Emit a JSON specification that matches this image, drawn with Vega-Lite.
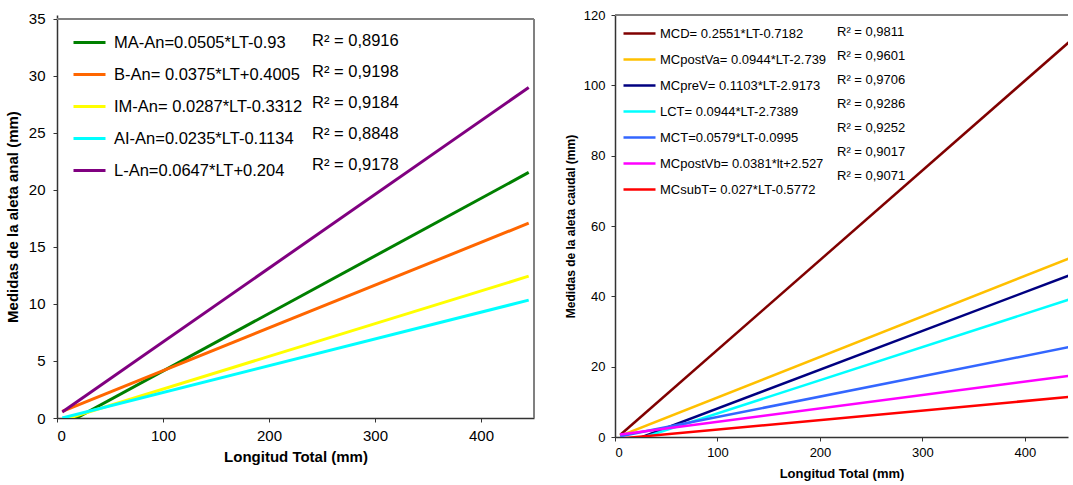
{
  "$schema": "https://vega.github.io/schema/vega-lite/v6.json",
  "padding": {"left": 5, "top": 9, "right": 0, "bottom": 5},
  "spacing": 29,
  "resolve": {"scale": {"color": "independent", "strokeDash": "independent", "x": "independent", "y": "independent"}, "legend": {"color": "independent", "strokeDash": "independent"}},
  "config": {
    "font": "Liberation Sans",
    "view": {"stroke": null},
    "axis": {"grid": false, "domainColor": "#333333", "domainWidth": 1.5, "tickColor": "#333333", "tickSize": 4, "labelColor": "#000000", "titleColor": "#000000", "titleFontWeight": "bold"},
    "legend": {"labelLimit": 0}
  },
  "datasets": {
    "anal": [
      {"eq": "MA-An=0.0505*LT-0.93", "r2": "R² = 0,8916", "lt": 5, "y": -0.68},
      {"eq": "MA-An=0.0505*LT-0.93", "r2": "R² = 0,8916", "lt": 445, "y": 21.54},
      {"eq": "B-An= 0.0375*LT+0.4005", "r2": "R² = 0,9198", "lt": 5, "y": 0.59},
      {"eq": "B-An= 0.0375*LT+0.4005", "r2": "R² = 0,9198", "lt": 445, "y": 17.09},
      {"eq": "IM-An= 0.0287*LT-0.3312", "r2": "R² = 0,9184", "lt": 5, "y": -0.19},
      {"eq": "IM-An= 0.0287*LT-0.3312", "r2": "R² = 0,9184", "lt": 445, "y": 12.44},
      {"eq": "AI-An=0.0235*LT-0.1134", "r2": "R² = 0,8848", "lt": 5, "y": 0.0},
      {"eq": "AI-An=0.0235*LT-0.1134", "r2": "R² = 0,8848", "lt": 445, "y": 10.34},
      {"eq": "L-An=0.0647*LT+0.204", "r2": "R² = 0,9178", "lt": 5, "y": 0.53},
      {"eq": "L-An=0.0647*LT+0.204", "r2": "R² = 0,9178", "lt": 445, "y": 28.99}
    ],
    "caudal": [
      {"eq": "MCD= 0.2551*LT-0.7182", "r2": "R² = 0,9811", "lt": 5, "y": 0.56},
      {"eq": "MCD= 0.2551*LT-0.7182", "r2": "R² = 0,9811", "lt": 445, "y": 112.8},
      {"eq": "MCpostVa= 0.0944*LT-2.739", "r2": "R² = 0,9601", "lt": 5, "y": 0.3},
      {"eq": "MCpostVa= 0.0944*LT-2.739", "r2": "R² = 0,9601", "lt": 445, "y": 51.0},
      {"eq": "MCpreV= 0.1103*LT-2.9173", "r2": "R² = 0,9706", "lt": 5, "y": -2.37},
      {"eq": "MCpreV= 0.1103*LT-2.9173", "r2": "R² = 0,9706", "lt": 445, "y": 46.17},
      {"eq": "LCT= 0.0944*LT-2.7389", "r2": "R² = 0,9286", "lt": 5, "y": -2.27},
      {"eq": "LCT= 0.0944*LT-2.7389", "r2": "R² = 0,9286", "lt": 445, "y": 39.27},
      {"eq": "MCT=0.0579*LT-0.0995", "r2": "R² = 0,9252", "lt": 5, "y": 0.19},
      {"eq": "MCT=0.0579*LT-0.0995", "r2": "R² = 0,9252", "lt": 445, "y": 25.67},
      {"eq": "MCpostVb= 0.0381*lt+2.527", "r2": "R² = 0,9017", "lt": 5, "y": 0.72},
      {"eq": "MCpostVb= 0.0381*lt+2.527", "r2": "R² = 0,9017", "lt": 445, "y": 17.48},
      {"eq": "MCsubT= 0.027*LT-0.5772", "r2": "R² = 0,9071", "lt": 5, "y": -0.44},
      {"eq": "MCsubT= 0.027*LT-0.5772", "r2": "R² = 0,9071", "lt": 445, "y": 11.44}
    ]
  },
  "hconcat": [
    {
      "width": 477,
      "height": 403,
      "data": {"name": "anal"},
      "layer": [
        {
          "mark": {"type": "rule", "color": "#808080", "strokeWidth": 1.5},
          "encoding": {"y": {"datum": 35, "type": "quantitative"}}
        },
        {
          "mark": {"type": "rule", "color": "#808080", "strokeWidth": 1.5},
          "encoding": {"x": {"datum": 450, "type": "quantitative"}, "y": {"datum": 0, "type": "quantitative"}, "y2": {"datum": 35}}
        },
        {
          "mark": {"type": "line", "strokeWidth": 3, "clip": true},
          "encoding": {
            "x": {"field": "lt", "type": "quantitative", "scale": {"domain": [0, 450], "nice": false}, "axis": {"values": [0, 100, 200, 300, 400], "title": "Longitud Total (mm)", "labelFontSize": 15, "titleFontSize": 15, "labelPadding": 6, "titlePadding": 6}},
            "y": {"field": "y", "type": "quantitative", "scale": {"domain": [0, 35.35], "nice": false}, "axis": {"values": [0, 5, 10, 15, 20, 25, 30, 35], "title": "Medidas de la aleta anal (mm)", "labelFontSize": 15, "titleFontSize": 15, "labelPadding": 8, "titlePadding": 8}},
            "color": {"field": "eq", "type": "nominal",
              "scale": {"domain": ["MA-An=0.0505*LT-0.93", "B-An= 0.0375*LT+0.4005", "IM-An= 0.0287*LT-0.3312", "AI-An=0.0235*LT-0.1134", "L-An=0.0647*LT+0.204"],
                        "range": ["#008000", "#FF6600", "#FFFF00", "#00FFFF", "#800080"]},
              "legend": {"orient": "none", "legendX": 15, "legendY": 10, "title": null, "symbolType": "stroke", "symbolSize": 1024, "symbolStrokeWidth": 3, "labelFontSize": 16.5, "labelOffset": 7, "rowPadding": 6, "padding": 0, "labelColor": "#000000"}}
          }
        },
        {
          "mark": {"type": "line", "opacity": 0, "clip": true},
          "encoding": {
            "x": {"field": "lt", "type": "quantitative"},
            "y": {"field": "y", "type": "quantitative"},
            "strokeDash": {"field": "r2", "type": "nominal",
              "scale": {"domain": ["R² = 0,8916", "R² = 0,9198", "R² = 0,9184", "R² = 0,8848", "R² = 0,9178"],
                        "range": [[1, 0], [1, 0], [1, 0], [1, 0], [1, 0]]},
              "legend": {"orient": "none", "legendX": 216, "legendY": 10, "title": null, "symbolType": "stroke", "symbolSize": 1024, "symbolOpacity": 0, "symbolStrokeWidth": 0, "labelFontSize": 16.5, "labelOffset": 7, "rowPadding": 6, "padding": 0, "labelColor": "#000000"}}
          }
        }
      ]
    },
    {
      "width": 453,
      "height": 422,
      "data": {"name": "caudal"},
      "layer": [
        {
          "mark": {"type": "rule", "color": "#808080", "strokeWidth": 1.5},
          "encoding": {"y": {"datum": 120, "type": "quantitative"}}
        },
        {
          "mark": {"type": "line", "strokeWidth": 2.5, "clip": true},
          "encoding": {
            "x": {"field": "lt", "type": "quantitative", "scale": {"domain": [0, 442], "nice": false}, "axis": {"values": [0, 100, 200, 300, 400], "title": "Longitud Total (mm)", "labelFontSize": 13, "titleFontSize": 13, "labelPadding": 5, "titlePadding": 8}},
            "y": {"field": "y", "type": "quantitative", "scale": {"domain": [0, 120], "nice": false}, "axis": {"values": [0, 20, 40, 60, 80, 100, 120], "title": "Medidas de la aleta caudal (mm)", "labelFontSize": 13, "titleFontSize": 12, "labelPadding": 6, "titlePadding": 6}},
            "color": {"field": "eq", "type": "nominal",
              "scale": {"domain": ["MCD= 0.2551*LT-0.7182", "MCpostVa= 0.0944*LT-2.739", "MCpreV= 0.1103*LT-2.9173", "LCT= 0.0944*LT-2.7389", "MCT=0.0579*LT-0.0995", "MCpostVb= 0.0381*lt+2.527", "MCsubT= 0.027*LT-0.5772"],
                        "range": ["#800000", "#FFC000", "#000080", "#00FFFF", "#3366FF", "#FF00FF", "#FF0000"]},
              "legend": {"orient": "none", "legendX": 7, "legendY": 1, "title": null, "symbolType": "stroke", "symbolSize": 1024, "symbolStrokeWidth": 2.5, "labelFontSize": 13, "labelOffset": 3, "rowPadding": 1, "padding": 0, "labelColor": "#000000"}}
          }
        },
        {
          "mark": {"type": "line", "opacity": 0, "clip": true},
          "encoding": {
            "x": {"field": "lt", "type": "quantitative"},
            "y": {"field": "y", "type": "quantitative"},
            "strokeDash": {"field": "r2", "type": "nominal",
              "scale": {"domain": ["R² = 0,9811", "R² = 0,9601", "R² = 0,9706", "R² = 0,9286", "R² = 0,9252", "R² = 0,9017", "R² = 0,9071"],
                        "range": [[1, 0], [1, 0], [1, 0], [1, 0], [1, 0], [1, 0], [1, 0]]},
              "legend": {"orient": "none", "legendX": 187, "legendY": 1, "title": null, "symbolType": "stroke", "symbolSize": 1024, "symbolOpacity": 0, "symbolStrokeWidth": 0, "labelFontSize": 13, "labelOffset": 3, "rowPadding": 1, "padding": 0, "labelColor": "#000000"}}
          }
        }
      ]
    }
  ]
}
